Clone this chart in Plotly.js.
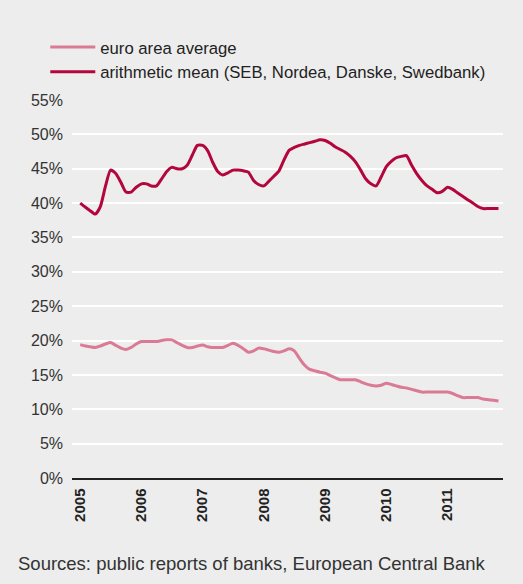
<!DOCTYPE html>
<html>
<head>
<meta charset="utf-8">
<script src="https://cdn.plot.ly/plotly-3.0.1.min.js"></script>
<style>
html,body{margin:0;padding:0;background:#ECEDEC;}
#chart{width:523px;height:584px;}
</style>
</head>
<body>
<div id="chart"></div>
<script>
// Monthly observations, Jan 2005 .. Nov 2011
var startYear = 2005;
var seriesNames = ["euro area average", "arithmetic mean (SEB, Nordea, Danske, Swedbank)"];
var euroArea = [19.4,19.2,19.1,19.0,19.2,19.5,19.7,19.3,18.9,18.7,19.0,19.5,
  19.85,19.85,19.85,19.85,20.0,20.1,20.1,19.7,19.3,19.0,19.0,19.2,
  19.35,19.1,19.0,19.0,19.0,19.3,19.6,19.3,18.8,18.3,18.5,18.9,
  18.8,18.6,18.4,18.3,18.5,18.8,18.5,17.4,16.4,15.8,15.6,15.4,
  15.25,14.9,14.6,14.3,14.3,14.3,14.3,14.0,13.7,13.5,13.4,13.5,
  13.8,13.6,13.4,13.2,13.1,12.9,12.7,12.5,12.5,12.5,12.5,12.5,
  12.5,12.3,12.0,11.7,11.7,11.7,11.7,11.5,11.4,11.3,11.2];
var nordicMean = [40.0,39.4,38.9,38.4,39.5,42.5,44.8,44.3,43.0,41.6,41.6,42.3,
  42.8,42.8,42.5,42.5,43.5,44.6,45.2,45.0,45.0,45.5,47.0,48.4,
  48.4,47.6,46.0,44.6,44.1,44.4,44.8,44.8,44.7,44.5,43.3,42.7,
  42.5,43.2,43.9,44.7,46.3,47.7,48.1,48.4,48.6,48.8,49.0,49.2,
  49.1,48.7,48.2,47.8,47.4,46.8,46.0,44.8,43.5,42.8,42.5,43.8,
  45.3,46.1,46.6,46.8,46.9,45.5,44.3,43.3,42.5,42.0,41.5,41.7,
  42.3,42.0,41.5,41.0,40.5,40.0,39.5,39.2,39.2,39.2,39.2];
var yTicks = [0,5,10,15,20,25,30,35,40,45,50,55];
var yearTicks = ["2005","2006","2007","2008","2009","2010","2011"];
var sourceText = "Sources: public reports of banks, European Central Bank";

function monthDates(n){
  var out=[];
  for(var i=0;i<n;i++){
    var y=startYear+Math.floor(i/12), m=(i%12)+1;
    out.push(y+"-"+(m<10?"0":"")+m+"-01");
  }
  return out;
}
var dates = monthDates(euroArea.length);

var font = "'Liberation Sans', Arial, Helvetica, sans-serif";
var traces = [
  {x:dates, y:euroArea, name:seriesNames[0], type:"scatter", mode:"lines",
   line:{color:"#DA7A95", width:3, shape:"spline", smoothing:0.6}},
  {x:dates, y:nordicMean, name:seriesNames[1], type:"scatter", mode:"lines",
   line:{color:"#B3063C", width:3, shape:"spline", smoothing:0.6}}
];
var layout = {
  width:523, height:584,
  paper_bgcolor:"#ECEDEC", plot_bgcolor:"#ECEDEC",
  margin:{l:72, r:20, t:100, b:106, pad:0},
  font:{family:font, color:"#222", size:16},
  showlegend:true,
  legend:{x:-0.062, xanchor:"left", y:1.186, yanchor:"top", itemwidth:45,
    bgcolor:"rgba(0,0,0,0)", font:{size:16.7, color:"#222"}, tracegroupgap:0,
    traceorder:"normal"},
  xaxis:{type:"date", range:["2004-11-13","2011-11-28"],
    tickvals:yearTicks.map(function(y){return y+"-01-01";}),
    ticktext:yearTicks, tickangle:-90,
    tickfont:{size:15, weight:"bold", color:"#222"},
    showgrid:false, zeroline:false, showline:true, linecolor:"#222", linewidth:1.5,
    ticks:"", ticklen:0, ticklabelstandoff:3},
  yaxis:{range:[0,55], tickvals:yTicks, ticktext:yTicks.map(function(v){return v+"%";}),
    tickfont:{size:16, color:"#333"}, showgrid:true, gridcolor:"#FFFFFF", gridwidth:2,
    zeroline:false, showline:false, ticks:"", ticklabelstandoff:8},
  annotations:[{text:sourceText, xref:"paper", yref:"paper", x:-0.129, y:-0.2275,
    xanchor:"left", yanchor:"middle", showarrow:false, font:{size:18.5, color:"#333"}}]
};
Plotly.newPlot("chart", traces, layout, {displayModeBar:false, staticPlot:true});
</script>
</body>
</html>
